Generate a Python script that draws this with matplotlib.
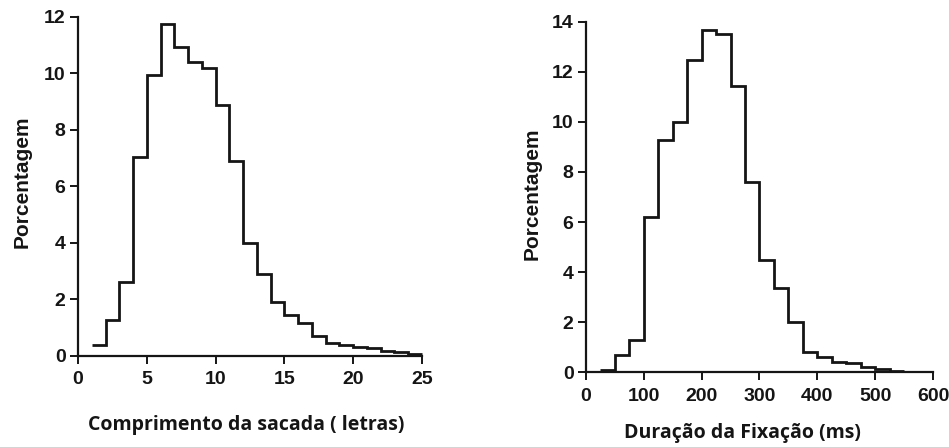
import numpy as np
import matplotlib.pyplot as plt

# saccade length histogram (letters), bins of 1 from 1 to 25
sac_edges = np.arange(1, 26, 1)
sac_pct = [0.39, 1.28, 2.63, 7.06, 9.95, 11.75, 10.92, 10.42, 10.19, 8.89, 6.9, 3.99,
           2.9, 1.92, 1.45, 1.16, 0.72, 0.47, 0.39, 0.33, 0.27, 0.19, 0.13, 0.06]

# fixation duration histogram (ms), bins of 25 from 25 to 550
fix_edges = np.arange(25, 551, 25)
fix_pct = [0.09, 0.69, 1.29, 6.19, 9.28, 9.99, 12.48, 13.67, 13.5, 11.45, 7.58,
           4.49, 3.38, 2.02, 0.83, 0.63, 0.43, 0.36, 0.23, 0.12, 0.05]

sac_ticks = [0, 5, 10, 15, 20, 25]
sac_yticks = [0, 2, 4, 6, 8, 10, 12]
fix_ticks = [0, 100, 200, 300, 400, 500, 600]
fix_yticks = [0, 2, 4, 6, 8, 10, 12, 14]

tick_font = dict(family='Liberation Sans', size=14, weight='bold')
ylab_font = dict(family='Liberation Sans', size=15, weight='bold')
xlab_font = dict(family='Open Sans', size=14, weight='bold')
ink = '#151515'

fig = plt.figure(figsize=(9.49, 4.47), dpi=100)
ax1 = fig.add_axes([0.0822, 0.2036, 0.3625, 0.7584])
ax2 = fig.add_axes([0.6175, 0.1671, 0.3656, 0.7843])


def style(ax, xt, yt):
    ax.set_xlim(xt[0], xt[-1])
    ax.set_ylim(yt[0], yt[-1])
    ax.set_xticks(xt)
    ax.set_yticks(yt)
    for s in ['top', 'right']:
        ax.spines[s].set_visible(False)
    for s in ['left', 'bottom']:
        ax.spines[s].set_linewidth(1.6)
        ax.spines[s].set_color(ink)
    ax.tick_params(direction='out', length=6, width=1.4, color=ink, pad=3)
    ax.tick_params(axis='x', pad=5)
    for lbl in ax.get_xticklabels() + ax.get_yticklabels():
        lbl.set(**tick_font, color=ink)


ax1.stairs(sac_pct, sac_edges, baseline=None, color=ink, lw=2.0, clip_on=False)
style(ax1, sac_ticks, sac_yticks)
ax1.set_ylabel('Porcentagem', fontdict=ylab_font, color=ink)
ax1.yaxis.set_label_coords(-0.135, 0.515)
ax1.set_xlabel('Comprimento da sacada ( letras)', fontdict=xlab_font, color=ink)
ax1.xaxis.set_label_coords(0.49, -0.175)

ax2.stairs(fix_pct, fix_edges, baseline=None, color=ink, lw=2.0, clip_on=False)
style(ax2, fix_ticks, fix_yticks)
ax2.set_ylabel('Porcentagem', fontdict=ylab_font, color=ink)
ax2.yaxis.set_label_coords(-0.128, 0.51)
ax2.set_xlabel('Duração da Fixação (ms)', fontdict=xlab_font, color=ink)
ax2.xaxis.set_label_coords(0.45, -0.145)

fig.savefig('out.png', dpi=100, facecolor='white')
